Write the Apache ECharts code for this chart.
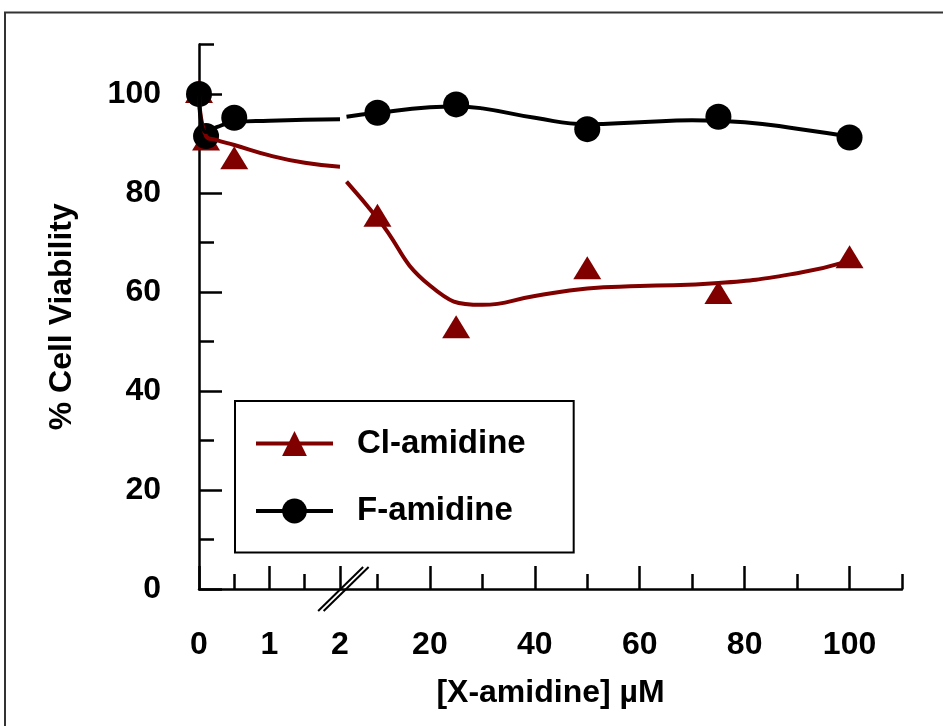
<!DOCTYPE html>
<html>
<head>
<meta charset="utf-8">
<script src="https://cdn.jsdelivr.net/npm/echarts@6/dist/echarts.min.js"></script>
<style>html,body{margin:0;padding:0;background:#fff}#c{width:943px;height:726px}</style>
</head>
<body>
<div id="c"></div>
<script>
// ---- data (concentration in µM, viability in %) ----
const conc = [0, 0.1, 0.5, 10, 25, 50, 75, 100];
const clViability = [100.5, 90.9, 87.1, 75.5, 53.0, 64.9, 59.9, 67.1];
const fViability = [100, 91.5, 95.2, 96.2, 97.9, 92.9, 95.4, 91.2];

// fitted curves (low segment 0–2 µM, high segment after the break)
const clFitLowX = [0, 0.1, 0.25, 0.5, 1, 1.5, 2];
const clFitLowY = [100, 91.5, 90.7, 89.7, 87.6, 86.1, 85.3];
const clFitHighX = [4.1, 10, 20, 30, 40, 50, 60, 75, 90, 100];
const clFitHighY = [82.3, 74.9, 61.3, 57.4, 59.2, 60.7, 61.2, 61.8, 63.8, 66.3];
const fFitLowX = [0, 0.1, 0.25, 0.5, 1, 1.5, 2];
const fFitLowY = [100, 92.3, 93.3, 94.3, 94.6, 94.8, 94.9];
const fFitHighX = [4.1, 10, 20, 25, 30, 40, 50, 60, 70, 80, 90, 100];
const fFitHighY = [95.4, 96.2, 97.3, 97.5, 97.1, 95.2, 93.9, 94.3, 94.7, 94.3, 93.0, 91.4];

// tick labels
const xMajorTicks = [0, 1, 2, 20, 40, 60, 80, 100];
const xMinorTicks = [0.5, 1.5, 10, 30, 50, 70, 90, 110];
const yMajorTicks = [0, 20, 40, 60, 80, 100];
const yMinorTicks = [10, 30, 50, 70, 90, 110];

// ---- broken x-axis: piecewise scale (0–2 µM stretched, then linear) ----
const LOW_SCALE = 13.44;
const HIGH_OFFSET = 24.02;
function toAxis(c) { return c <= 2.5 ? c * LOW_SCALE : c + HIGH_OFFSET; }
const X_MAX = toAxis(110);
const BREAK_U = toAxis(2) + 0.6;

const xMajorU = xMajorTicks.map(toAxis);
const xMinorU = xMinorTicks.map(toAxis);
const pairs = (xs, ys) => xs.map((x, i) => [toAxis(x), ys[i]]);

const RED = '#800000';
const FONT = 'Liberation Sans, Arial, sans-serif';
const LW = 4;

const chart = echarts.init(document.getElementById('c'), null, {renderer: 'canvas'});
const lineCommon = {type: 'line', smooth: 0.5, showSymbol: false, silent: true};

chart.setOption({
  animation: false,
  backgroundColor: '#fff',
  grid: {left: 199, right: 41, top: 44.5, bottom: 137},
  graphic: [{
    type: 'rect', z: -10,
    shape: {x: 5, y: 12.5, width: 1000, height: 1000},
    style: {fill: 'none', stroke: '#333', lineWidth: 2}
  }],
  legend: {
    data: ['Cl-amidine', 'F-amidine'],
    orient: 'vertical',
    left: 235, top: 401,
    padding: [26, 48, 25, 19],
    itemGap: 34.5,
    itemWidth: 77, itemHeight: 31,
    borderColor: '#000', borderWidth: 2,
    backgroundColor: '#fff',
    selectedMode: false,
    lineStyle: {width: LW},
    textStyle: {fontFamily: FONT, fontWeight: 'bold', fontSize: 33, color: '#000',
                lineHeight: 31, padding: [0, 0, 0, 19]}
  },
  xAxis: [{
    type: 'value', min: 0, max: X_MAX,
    name: '[X-amidine] µM', nameLocation: 'middle', nameGap: 88,
    nameTextStyle: {fontFamily: FONT, fontWeight: 'bold', fontSize: 32, color: '#000'},
    axisLine: {show: true, onZero: false, lineStyle: {color: '#000', width: 2.5}},
    axisTick: {show: true, inside: true, length: 23, lineStyle: {color: '#000', width: 2.5},
               customValues: xMajorU},
    axisLabel: {show: true, margin: 40, customValues: xMajorU,
                fontFamily: FONT, fontWeight: 'bold', fontSize: 32, color: '#000',
                formatter: function (v) {
                  const i = xMajorU.findIndex(u => Math.abs(u - v) < 1e-6);
                  return i >= 0 ? String(xMajorTicks[i]) : '';
                }},
    splitLine: {show: false}
  }, {
    type: 'value', min: 0, max: X_MAX, position: 'bottom',
    axisLine: {show: false},
    axisTick: {show: true, inside: true, length: 15, lineStyle: {color: '#000', width: 2.5},
               customValues: xMinorU},
    axisLabel: {show: false},
    splitLine: {show: false}
  }],
  yAxis: [{
    type: 'value', min: 0, max: 110, interval: 10,
    name: '% Cell Viability', nameLocation: 'middle', nameGap: 121, nameRotate: 90,
    nameTextStyle: {fontFamily: FONT, fontWeight: 'bold', fontSize: 32, color: '#000'},
    axisLine: {show: true, onZero: false, lineStyle: {color: '#000', width: 2.5}},
    axisTick: {show: true, inside: true, length: 23, lineStyle: {color: '#000', width: 2.5},
               customValues: yMajorTicks},
    axisLabel: {show: true, margin: 38, customValues: yMajorTicks,
                fontFamily: FONT, fontWeight: 'bold', fontSize: 32, color: '#000'},
    splitLine: {show: false}
  }, {
    type: 'value', min: 0, max: 110, interval: 10, position: 'left',
    axisLine: {show: false},
    axisTick: {show: true, inside: true, length: 15, lineStyle: {color: '#000', width: 2.5},
               customValues: yMinorTicks},
    axisLabel: {show: false},
    splitLine: {show: false}
  }],
  series: [
    Object.assign({}, lineCommon, {name: 'Cl-amidine', data: pairs(clFitLowX, clFitLowY),
      symbol: 'triangle', symbolSize: [28, 23], itemStyle: {color: RED},
      lineStyle: {color: RED, width: LW}}),
    Object.assign({}, lineCommon, {name: 'Cl-amidine', data: pairs(clFitHighX, clFitHighY),
      symbol: 'triangle', symbolSize: [28, 23], itemStyle: {color: RED},
      lineStyle: {color: RED, width: LW}}),
    {type: 'scatter', name: 'Cl-amidine data', data: pairs(conc, clViability),
      symbol: 'triangle', symbolSize: [28, 23], itemStyle: {color: RED, opacity: 1}, silent: true},
    Object.assign({}, lineCommon, {name: 'F-amidine', data: pairs(fFitLowX, fFitLowY),
      symbol: 'circle', symbolSize: 26, itemStyle: {color: '#000'},
      lineStyle: {color: '#000', width: LW}}),
    Object.assign({}, lineCommon, {name: 'F-amidine', data: pairs(fFitHighX, fFitHighY),
      symbol: 'circle', symbolSize: 26, itemStyle: {color: '#000'},
      lineStyle: {color: '#000', width: LW}}),
    {type: 'scatter', name: 'F-amidine data', data: pairs(conc, fViability),
      symbol: 'circle', symbolSize: 26, itemStyle: {color: '#000', opacity: 1}, silent: true},
    {type: 'custom', name: 'axis break', silent: true, clip: false,
      data: [[BREAK_U, 0]],
      renderItem: function (params, api) {
        const p = api.coord([api.value(0), api.value(1)]);
        const mk = (dx) => ({type: 'line',
          shape: {x1: p[0] + dx - 22.5, y1: p[1] + 22, x2: p[0] + dx + 22.5, y2: p[1] - 22},
          style: {stroke: '#000', lineWidth: 2}});
        return {type: 'group', children: [mk(-2.5), mk(3)]};
      }}
  ]
});
</script>
</body>
</html>
